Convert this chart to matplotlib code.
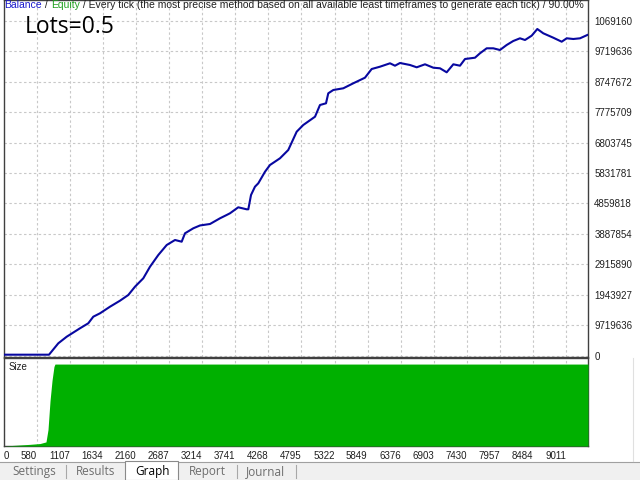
import matplotlib
matplotlib.use("Agg")
import matplotlib.pyplot as plt
from matplotlib.patches import Rectangle
from matplotlib.lines import Line2D

# equity curve (trade number -> balance)
trades = [60, 776, 924, 1058, 1269, 1401, 1481, 1588, 1747, 1906, 2038, 2145, 2277, 2384, 2516,
          2650, 2782, 2888, 2941, 3073, 3180, 3339, 3498, 3604, 3657, 3789, 3923, 3949, 3992, 4055,
          4108, 4215, 4294, 4453, 4585, 4719, 4824, 5011, 5090, 5186, 5222, 5302, 5461, 5620, 5806,
          5913, 6045, 6205, 6284, 6364, 6523, 6630, 6762, 6894, 7001, 7107, 7213, 7319, 7399, 7558,
          7637, 7744, 7849, 7955, 8062, 8167, 8274, 8354, 8460, 8550, 8645, 8804, 8938, 9018, 9123,
          9230, 9346]
equity = [41400, 41400, 404700, 615100, 882700, 1042100, 1252400, 1360800, 1571100, 1762300,
          1943900, 2208500, 2476100, 2845800, 3218700, 3537300, 3696700, 3642500, 3910200, 4069500,
          4160000, 4206600, 4388200, 4493400, 4547600, 4738800, 4675000, 4675000, 5130700, 5395300,
          5503600, 5873300, 6086800, 6300300, 6564800, 7148000, 7361500, 7626000, 7998900, 8053000,
          8371700, 8476900, 8531100, 8690400, 8868900, 9146000, 9219400, 9327800, 9251300, 9337300,
          9273600, 9200300, 9295900, 9187500, 9168400, 9040900, 9295900, 9251300, 9464800, 9506200,
          9646400, 9805800, 9805800, 9751600, 9911000, 10038400, 10124500, 10070300, 10207300, 10420800,
          10283800, 10143600, 10016100, 10124500, 10102200, 10124500, 10229600]

# lot size panel
size_x = [60, 470, 633, 728, 760, 792, 824, 855, 871, 9357]
size_y = [0, 0.02, 0.03, 0.05, 0.2, 0.55, 0.8, 0.97, 1.0, 1.0]

xticks = [580, 1107, 1634, 2160, 2687, 3214, 3741, 4268, 4795, 5322, 5849, 6376, 6903, 7430,
          7957, 8484, 9011]
yticks = [0, 971964, 1943927, 2915891, 3887854, 4859818, 5831782, 6803745, 7775709, 8747672,
          9719636, 10691600]
ylabels = ['0', '9719636', '1943927', '2915890', '3887854', '4859818', '5831781', '6803745',
           '7775709', '8747672', '9719636', '1069160']

W, H = 640, 480
fig = plt.figure(figsize=(6.4, 4.8), dpi=100)

def fx(px):
    return px / W

def fy(py):
    return 1 - py / H

xlim = (59.4, 9357)
grid_kw = dict(color='#c8c8c8', linewidth=0.8, linestyle=(0, (2.2, 2.2)))
spine_c = '#404040'
tick_font = dict(family='Liberation Sans', size=7)
head_font = dict(family='Liberation Sans', size=7.45)

# main chart
ax = fig.add_axes([fx(4), fy(357), fx(588) - fx(4), fy(0) - fy(357)])
ax.plot(trades, equity, color='#0808a0', linewidth=1.5, zorder=3)
ax.set_xlim(*xlim)
ax.set_ylim(-32000, 11345000)
ax.set_xticks(xticks)
ax.set_xticklabels([])
ax.set_yticks(yticks)
ax.set_yticklabels(ylabels, **tick_font, color='#202020')
ax.yaxis.tick_right()
ax.tick_params(axis='both', length=0)
ax.tick_params(axis='y', pad=4.5)
ax.grid(True, **grid_kw)
ax.set_axisbelow(True)
for s in ax.spines.values():
    s.set_color(spine_c)
    s.set_linewidth(1)

ax.text(0.036, 0.925, 'Lots=0.5', transform=ax.transAxes, fontsize=16.5,
        family='Open Sans', color='black', va='center', ha='left')

# header line with coloured words
t1 = ax.text(0.001, 0.999, 'Balance', transform=ax.transAxes, color='#1a1acc',
             va='top', ha='left', **head_font)
t2 = ax.annotate(' / ', xy=(1, 0), xycoords=t1, va='bottom', ha='left', color='#202020', **head_font)
t3 = ax.annotate('Equity', xy=(1, 0), xycoords=t2, va='bottom', ha='left', color='#20a020', **head_font)
ax.annotate(' / Every tick (the most precise method based on all available least timeframes '
            'to generate each tick) / 90.00%', xy=(1, 0), xycoords=t3, va='bottom', ha='left',
            color='#202020', **head_font)

# size panel
ax2 = fig.add_axes([fx(4), fy(446), fx(588) - fx(4), fy(358) - fy(446)])
ax2.fill_between(size_x, 0, size_y, color='#00b000', linewidth=0, zorder=3)
ax2.set_xlim(*xlim)
ax2.set_ylim(0, 1.074)
ax2.set_yticks([])
ax2.set_xticks([xlim[0]] + xticks)
ax2.set_xticklabels(['0'] + [str(v) for v in xticks], **tick_font, color='#202020')
for i, lbl in enumerate(ax2.get_xticklabels()):
    lbl.set_ha('left' if i == 0 else 'right')
ax2.tick_params(axis='x', length=0, pad=3.5)
ax2.xaxis.grid(True, **grid_kw)
ax2.set_axisbelow(True)
for s in ax2.spines.values():
    s.set_color(spine_c)
    s.set_linewidth(1)
ax2.text(0.007, 0.96, 'Size', transform=ax2.transAxes, va='top', ha='left',
         color='#202020', **tick_font)

# tab bar at the bottom
fig.patches.append(Rectangle((0, 0), 1, fy(462), transform=fig.transFigure,
                             facecolor='#f0f0f0', edgecolor='none', zorder=0))
fig.lines.append(Line2D([0, 1], [fy(462), fy(462)], transform=fig.transFigure,
                        color='#a0a0a0', linewidth=0.8))
fig.patches.append(Rectangle((fx(125), 0), fx(178) - fx(125), fy(461), transform=fig.transFigure,
                             facecolor='white', edgecolor='#8a8a8a', linewidth=0.8, zorder=2))
for sx in [66, 237, 296]:
    fig.lines.append(Line2D([fx(sx), fx(sx)], [fy(478), fy(465)], transform=fig.transFigure,
                            color='#a8a8a8', linewidth=0.8))
tab_names = ['Settings', 'Results', 'Graph', 'Report', 'Journal']
tab_x = [34, 96, 152, 207.5, 265.5]
for name, x in zip(tab_names, tab_x):
    fig.text(fx(x), fy(471.5), name, ha='center', va='center', fontsize=8.5, family='Open Sans',
             color='black' if name == 'Graph' else '#6d6d6d', zorder=3)

fig.lines.append(Line2D([fx(633), fx(633)], [fy(358), fy(461)], transform=fig.transFigure,
                        color='#e0e0e0', linewidth=0.8))

fig.savefig('out.png', dpi=100, facecolor='white')
